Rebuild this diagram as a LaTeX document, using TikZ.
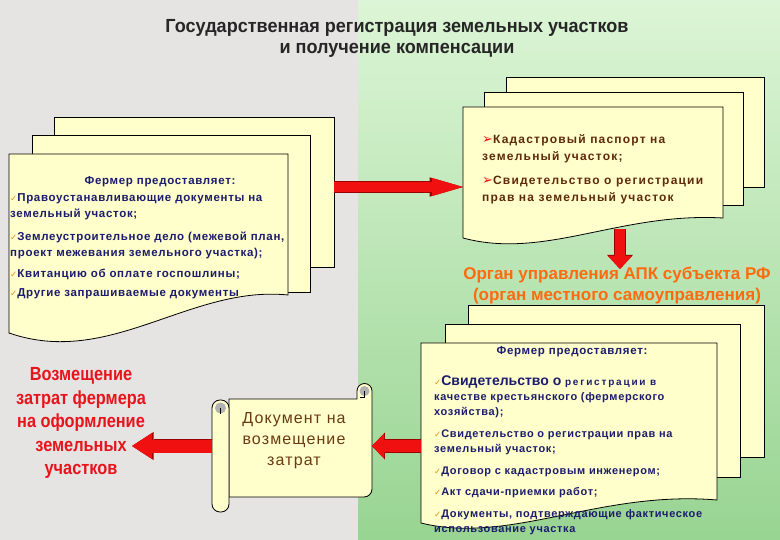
\documentclass[tikz,border=0pt]{standalone}
\usepackage{fontspec}
\setmainfont{Liberation Sans}
\newfontfamily\symfont{DejaVu Sans}
\newfontfamily\titlefont[FakeStretch=0.95]{Liberation Sans}
\newfontfamily\narrowfont[FakeStretch=0.86]{Liberation Sans}
\newfontfamily\itemfont[LetterSpace=6]{Liberation Sans}
\newfontfamily\wideitemfont[LetterSpace=10]{Liberation Sans}
\newfontfamily\tinyspaced[LetterSpace=18]{Liberation Sans}
\newfontfamily\docfont[LetterSpace=7]{Liberation Sans}
\usetikzlibrary{arrows.meta}

\definecolor{paper}{HTML}{FFFFCC}
\definecolor{navy}{HTML}{1C1C6E}
\definecolor{brownish}{HTML}{5E2A08}
\definecolor{docbrown}{HTML}{6B3A10}
\definecolor{organge}{HTML}{FF6A10}
\definecolor{refundred}{HTML}{E8141C}
\definecolor{arrowred}{HTML}{F01010}
\definecolor{arrowdark}{HTML}{9A0000}
\definecolor{checkc}{HTML}{E8901A}
\definecolor{bgleft}{HTML}{E6E3E3}
\definecolor{bgtop}{HTML}{DCF5D6}
\definecolor{bgbot}{HTML}{98D492}

\newcommand{\chk}{{\symfont\fontsize{8.5}{8.5}\selectfont\color{checkc}✓}}
\newcommand{\arr}{{\symfont\fontsize{13}{13}\selectfont\color{arrowred}➢}}

\tikzset{
  sheet/.style={draw=black, fill=paper, line width=0.8pt},
  item/.style={anchor=west, inner sep=0pt, align=left, font=\itemfont\bfseries\fontsize{11.5}{16}\selectfont},
  bitem/.style={item, text=navy, font=\itemfont\bfseries\fontsize{11}{15}\selectfont},
  redarrow/.style n args={4}{line width=#1, draw=arrowred,
    -{Triangle[length=#3, width=#4, line width=0pt]},
    preaction={draw=arrowdark, line width=#2,
      -{Triangle[length=#3, width=#4, line width=0pt, scale=1.08]}}}
}

\begin{document}
\begin{tikzpicture}[x=1pt, y=-1pt]
		\useasboundingbox (0,0) rectangle (780,540);
		% background
		\fill[bgleft] (0,0) rectangle (358,540);
		\shade[top color=bgtop, bottom color=bgbot] (358,0) rectangle (780,540);

		\node[font=\titlefont\bfseries\fontsize{19}{21}\selectfont, align=center, text=black!85] (title) at (397,38)
			{Государственная регистрация земельных участков\\и получение компенсации};

		% left stack
		\draw[sheet] (54,117) rectangle (334,267);
		\draw[sheet] (32,135) rectangle (310,292);
		\draw[sheet] (9,154) -- (288,154) -- (288,295) .. controls (190,285) and (110,368) .. (9,333) -- cycle;
		\node[item, anchor=center, text=navy] (lhead) at (160,182) {Фермер предоставляет:};
		\node[item, text=navy] (l1) at (10,207) {\chk Правоустанавливающие документы на\\земельный участок;};
		\node[item, text=navy] (l2) at (10,245) {\chk Землеустроительное дело (межевой план,\\проект межевания земельного участка);};
		\node[item, text=navy] (l3) at (10,274) {\chk Квитанцию об оплате госпошлины;};
		\node[item, text=navy] (l4) at (10,294) {\chk Другие запрашиваемые документы};

		% right top stack
		\draw[sheet] (506,77) rectangle (764,187);
		\draw[sheet] (484,92) rectangle (743,205);
		\draw[sheet] (463,107) -- (723,107) -- (723,218) .. controls (620,212) and (545,260) .. (463,238) -- cycle;
		\node[item, text=brownish, font=\wideitemfont\bfseries\fontsize{12}{17}\selectfont] (r1) at (482,148.5) {\arr Кадастровый паспорт на\\земельный участок;};
		\node[item, text=brownish, font=\wideitemfont\bfseries\fontsize{12}{17}\selectfont] (r2) at (482,190.5) {\arr Свидетельство о регистрации\\прав на земельный участок};

		\node[font=\bfseries\fontsize{17}{21}\selectfont, text=organge, align=center] (organ) at (617,286)
			{Орган управления АПК субъекта РФ\\(орган местного самоуправления)};

		% bottom right stack
		\draw[sheet] (468,305) rectangle (764,457);
		\draw[sheet] (445,324) rectangle (740,477);
		\draw[sheet] (421,343) -- (717,343) -- (717,500) .. controls (600,490) and (510,545) .. (421,523) -- cycle;
		\node[item, anchor=center, text=navy] (bhead) at (572,352) {Фермер предоставляет:};
		\node[bitem] (b1) at (434,397)
			{\chk{\rmfamily\bfseries\fontsize{14}{14}\selectfont Свидетельство о} {\tinyspaced\bfseries\fontsize{10}{10}\selectfont регистрации в}\\качестве крестьянского (фермерского\\хозяйства);};
		\node[bitem] (b2) at (434,442) {\chk Свидетельство о регистрации прав на\\земельный участок;};
		\node[bitem] (b3) at (434,472) {\chk Договор с кадастровым инженером;};
		\node[bitem] (b4) at (434,493) {\chk Акт сдачи-приемки работ;};
		\node[bitem] (b5) at (434,522) {\chk Документы, подтверждающие фактическое\\использование участка};

		% scroll
		\draw[sheet] (229,399) -- (357,399) -- (357,391) arc[start angle=180, end angle=360, radius=7.5]
			-- (372,489) arc[start angle=0, end angle=90, radius=8] -- (229,497) -- cycle;
		\fill[black!30] (364.5,391) circle (5);
		\draw[line width=0.6pt] (364.5,391) -- (364.5,397) -- (360,397);
		\draw[sheet, rounded corners=8pt] (212,400) rectangle (229,512);
		\fill[black!30] (220.5,408) circle (5.5);
		\draw[line width=0.6pt] (220.5,408) -- (220.5,414);
		\node[font=\docfont\fontsize{16}{21}\selectfont, text=docbrown, align=center] (doc) at (294,441)
			{Документ на\\возмещение\\затрат};

		\node[font=\narrowfont\bfseries\fontsize{19}{23.5}\selectfont, text=refundred, align=center] (refund) at (81,423)
			{Возмещение\\затрат фермера\\на оформление\\земельных\\участков};

		% arrows
		\coordinate (lstack-e) at (334,187);
		\coordinate (rtop-w) at (463,187);
		\coordinate (rtop-s) at (620,229);
		\coordinate (organ-n) at (620,269);
		\coordinate (bstack-w) at (421,446);
		\coordinate (doc-e) at (372,446);
		\coordinate (doc-w) at (212,446);
		\coordinate (refund-e) at (132,446);
		\draw[redarrow={10pt}{11.6pt}{31pt}{18pt}] (lstack-e) -- (rtop-w);
		\draw[redarrow={10pt}{11.6pt}{13pt}{24pt}] (rtop-s) -- (organ-n);
		\draw[redarrow={12pt}{13.6pt}{12pt}{25pt}] (bstack-w) -- (doc-e);
		\draw[redarrow={13pt}{14.6pt}{20pt}{26pt}] (doc-w) -- (refund-e);
	\end{tikzpicture}
\end{document}
